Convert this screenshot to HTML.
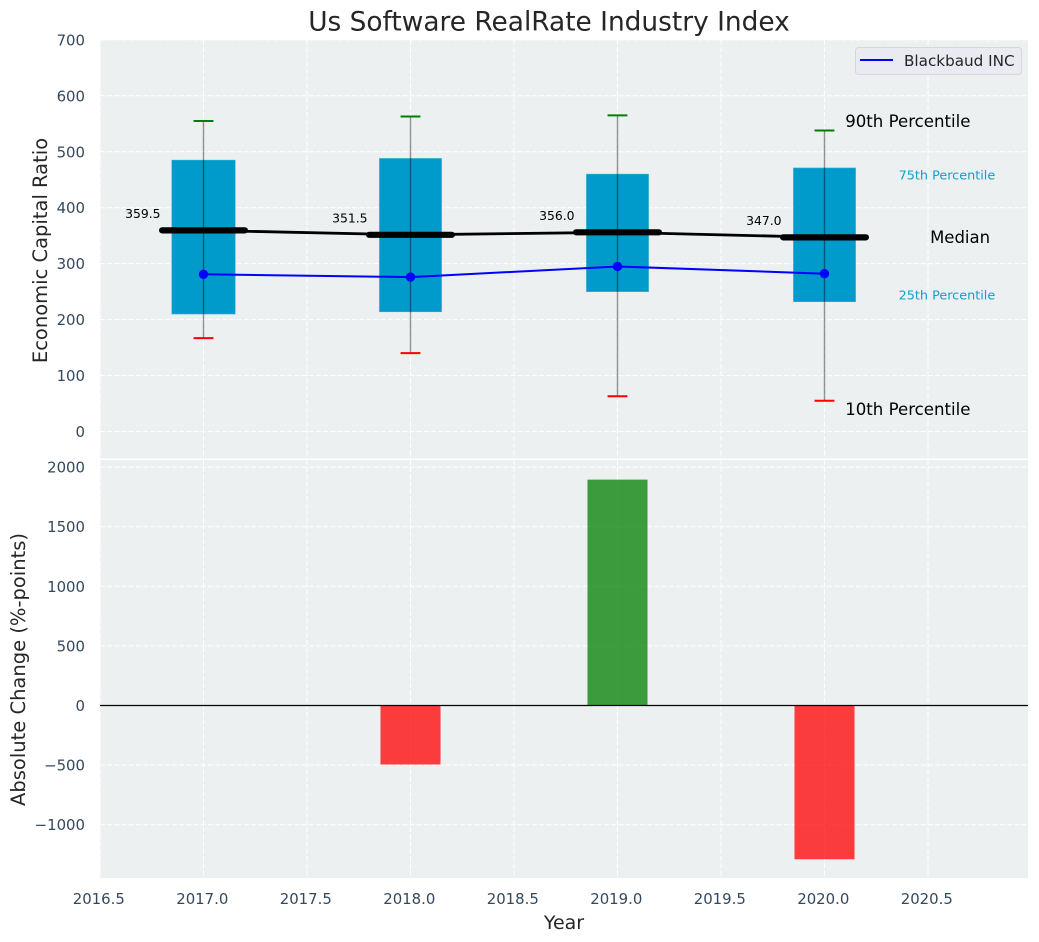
<!DOCTYPE html>
<html lang="en">
<head>
<meta charset="utf-8">
<title>Us Software RealRate Industry Index</title>
<style>
html,body{margin:0;padding:0;background:#fff;}
svg{display:block;font-family:"DejaVu Sans","Liberation Sans",sans-serif;}
</style>
</head>
<body>
<svg id="chart" xmlns="http://www.w3.org/2000/svg" width="1039" height="942" viewBox="0 0 1039 942">
<rect x="100" y="40" width="928" height="418.5" fill="#ecf0f1"/>
<rect x="100" y="460" width="928" height="418" fill="#ecf0f1"/>
<text x="549" y="30.5" text-anchor="middle" font-size="26.4" fill="#262626">Us Software RealRate Industry Index</text>
<text x="47" y="250.5" text-anchor="middle" font-size="19.5" fill="#262626" transform="rotate(-90 47 250.5)">Economic Capital Ratio</text>
<text x="25" y="669.5" text-anchor="middle" font-size="19.5" fill="#262626" transform="rotate(-90 25 669.5)">Absolute Change (%-points)</text>
<text x="564" y="929" text-anchor="middle" font-size="19" fill="#262626">Year</text>
<g id="grid"></g>
<g id="bars"></g>
<g id="boxes"></g>
<g id="lines"></g>
<g id="labels"></g>
<g>
<rect x="855.5" y="47.5" width="166" height="27" rx="3" fill="#eaeaf2" stroke="#d6d6dc" stroke-width="1"/>
<line x1="860" y1="60" x2="893" y2="60" stroke="#0000ff" stroke-width="2"/>
<text x="904" y="66" font-size="15.2" fill="#262626">Blackbaud INC</text>
</g>
</svg>
<script>
const years = [2017, 2018, 2019, 2020];
const p90 = [555, 563, 565, 538];
const p75 = [485, 488, 460, 471];
const medians = [359.5, 351.5, 356.0, 347.0];
const p25 = [210, 214, 250, 232];
const p10 = [167, 140, 63, 55];
const company = [281, 276, 295, 282];
const changes = [0, -495, 1895, -1290];
const xTicks = [2016.5, 2017.0, 2017.5, 2018.0, 2018.5, 2019.0, 2019.5, 2020.0, 2020.5];
const topTicks = [0, 100, 200, 300, 400, 500, 600, 700];
const bottomTicks = [-1000, -500, 0, 500, 1000, 1500, 2000];

const NS = 'http://www.w3.org/2000/svg';
const TICK = '#34495e';
const xS = v => 100 + (v - 2016.5) * 207;
const yTop = v => 431.5 - v * 0.5595;
const yBot = v => 705.5 - v * 0.1192;
const mk = (parent, tag, attrs, txt) => {
  const el = document.createElementNS(NS, tag);
  for (const k in attrs) el.setAttribute(k, attrs[k]);
  if (txt !== undefined) el.textContent = txt;
  parent.appendChild(el);
  return el;
};
const grid = document.getElementById('grid');
const bars = document.getElementById('bars');
const boxes = document.getElementById('boxes');
const lines = document.getElementById('lines');
const labels = document.getElementById('labels');
const gridStyle = {stroke:'#ffffff','stroke-width':1,'stroke-dasharray':'5 2.2'};

xTicks.forEach(t => {
  const a = mk(grid, 'line', {x1:xS(t),x2:xS(t),y1:40,y2:458.5,...gridStyle});
  
  
  const b = mk(grid, 'line', {x1:xS(t),x2:xS(t),y1:460,y2:878,...gridStyle});
  
  
  const l = mk(labels, 'text', {x:xS(t)-1.2,y:904,'text-anchor':'middle','font-size':14.9,fill:TICK}, t.toFixed(1));
  
  
});
topTicks.forEach(t => {
  const g = mk(grid, 'line', {x1:100,x2:1028,y1:yTop(t),y2:yTop(t),...gridStyle});
  
  
  const l = mk(labels, 'text', {x:85,y:yTop(t)+5.5,'text-anchor':'end','font-size':14.9,fill:TICK}, String(t));
  
  
});
bottomTicks.forEach(t => {
  const g = mk(grid, 'line', {x1:100,x2:1028,y1:yBot(t),y2:yBot(t),...gridStyle});
  
  
  const l = mk(labels, 'text', {x:85,y:yBot(t)+5.5,'text-anchor':'end','font-size':14.9,fill:TICK}, String(t).replace('-', '\u2212'));
  
  
});

years.forEach((yr, i) => {
  const v = changes[i];
  if (v !== 0) {
    const r = mk(bars, 'rect', {x:xS(yr-0.145),width:207*0.29,y:Math.min(yBot(v),yBot(0)),height:Math.abs(yBot(v)-yBot(0)),fill:v>0?'#008000':'#ff0000','fill-opacity':0.75});
    
    
  }
  const hw = i === 0 ? 0.153 : 0.15;
  const b = mk(boxes, 'rect', {x:xS(yr-hw),width:207*2*hw,y:yTop(p75[i]),height:yTop(p25[i])-yTop(p75[i]),fill:'#009acb',stroke:'#33aed6','stroke-width':0.6});
  
  
  const w = mk(boxes, 'line', {x1:xS(yr),x2:xS(yr),y1:yTop(p90[i]),y2:yTop(p10[i]),stroke:'#000000','stroke-opacity':0.42,'stroke-width':1.4});
  
  
  const c1 = mk(boxes, 'line', {x1:xS(yr-0.048),x2:xS(yr+0.048),y1:yTop(p90[i]),y2:yTop(p90[i]),stroke:'#008000','stroke-width':2});
  
  
  const c2 = mk(boxes, 'line', {x1:xS(yr-0.048),x2:xS(yr+0.048),y1:yTop(p10[i]),y2:yTop(p10[i]),stroke:'#ff0000','stroke-width':2});
  
  
  const val = mk(labels, 'text', {x:xS(yr-0.293),y:yTop(medians[i]+30)+4.5,'text-anchor':'middle','font-size':12.4,fill:'#000000'}, medians[i].toFixed(1));
  
  
});

const medianLine = mk(lines, 'polyline', {points:years.map((y,i)=>xS(y)+','+yTop(medians[i])).join(' '),fill:'none',stroke:'#000000','stroke-width':2.8});


years.forEach((yr, i) => {
  const m = mk(lines, 'line', {x1:xS(yr-0.2),x2:xS(yr+0.2),y1:yTop(medians[i]),y2:yTop(medians[i]),stroke:'#000000','stroke-width':6.2,'stroke-linecap':'round'});
  
  
});
const companyLine = mk(lines, 'polyline', {points:years.map((y,i)=>xS(y)+','+yTop(company[i])).join(' '),fill:'none',stroke:'#0000ff','stroke-width':2});


years.forEach((yr, i) => {
  const p = mk(lines, 'circle', {cx:xS(yr),cy:yTop(company[i]),r:4.7,fill:'#0000ff'});
  
  
});
const zero = mk(lines, 'line', {x1:100,x2:1028,y1:yBot(0),y2:yBot(0),stroke:'#000000','stroke-width':1.2});



const last = years.length - 1;
const lx = years[last];
const a90 = mk(labels, 'text', {x:xS(lx+0.1),y:yTop(p90[last]+17)+5.8,'font-size':16.6,fill:'#000000'}, '90th Percentile');


const a75 = mk(labels, 'text', {x:xS(lx+0.358),y:yTop(p75[last]-13)+4.5,'font-size':12.8,fill:'#0f9fcf'}, '75th Percentile');


const aMed = mk(labels, 'text', {x:xS(lx+0.51),y:yTop(medians[last])+5.8,'font-size':16.5,fill:'#000000'}, 'Median');


const a25 = mk(labels, 'text', {x:xS(lx+0.358),y:yTop(p25[last]+12)+4.5,'font-size':12.8,fill:'#0f9fcf'}, '25th Percentile');


const a10 = mk(labels, 'text', {x:xS(lx+0.1),y:yTop(p10[last]-15)+5.8,'font-size':16.6,fill:'#000000'}, '10th Percentile');


</script>
</body>
</html>
